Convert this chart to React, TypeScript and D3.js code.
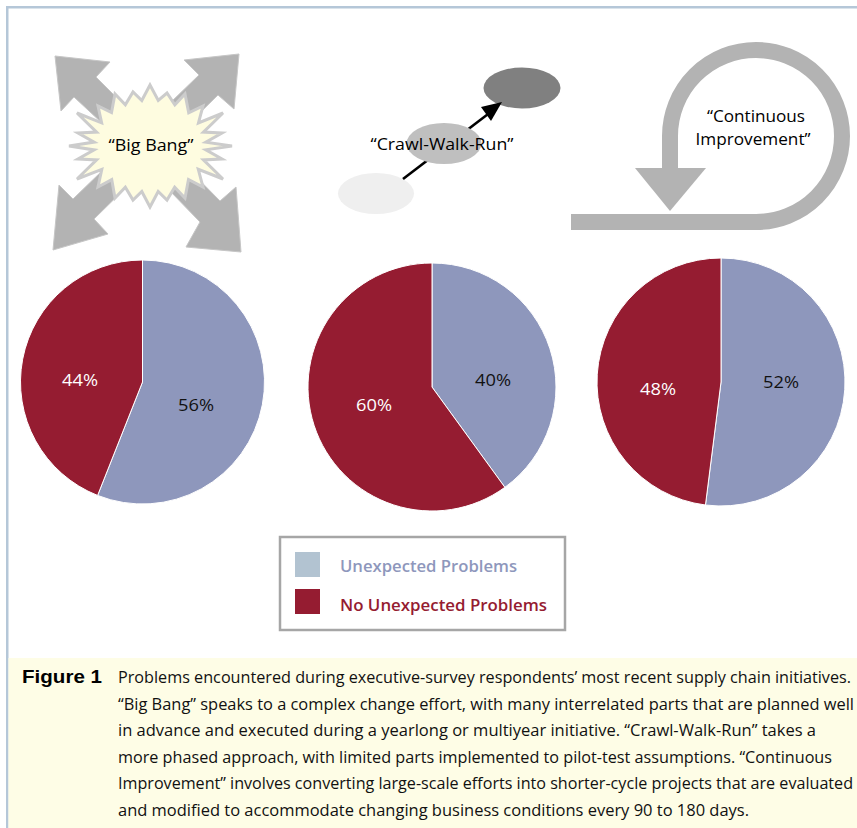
import React from "react";
import * as d3 from "d3";

const seriesNames = ["Unexpected Problems", "No Unexpected Problems"];
const bigBangValues = [56, 44];
const crawlValues = [40, 60];
const continuousValues = [52, 48];
const PIE_COLORS = ["#8e97bc", "#951c31"];
const LABEL_COLORS = ["#111111", "#ffffff"];
const FONT = "'Open Sans', 'Noto Sans', sans-serif";

const captionLines = [
  "Problems encountered during executive-survey respondents’ most recent supply chain initiatives.",
  "“Big Bang” speaks to a complex change effort, with many interrelated parts that are planned well",
  "in advance and executed during a yearlong or multiyear initiative. “Crawl-Walk-Run” takes a",
  "more phased approach, with limited parts implemented to pilot-test assumptions. “Continuous",
  "Improvement” involves converting large-scale efforts into shorter-cycle projects that are evaluated",
  "and modified to accommodate changing business conditions every 90 to 180 days.",
];
const captionWidths = [733, 736, 698, 714, 735, 631];

const pies = [
  { values: bigBangValues, cx: 142.5, cy: 382, r: 122, labels: [[196, 405], [80, 380]] },
  { values: crawlValues, cx: 432, cy: 387, r: 124, labels: [[493, 380], [374, 405]] },
  { values: continuousValues, cx: 721, cy: 382, r: 124, labels: [[781, 382], [658, 389]] },
];

const starTips: [number, number][] = [
  [150, 85], [167, 93], [185, 94], [203, 106], [223, 113], [222, 133], [232, 146], [222, 159],
  [223, 179], [203, 187], [185, 198], [167, 200], [150, 207], [133, 200], [115, 198], [98, 187],
  [77, 179], [78, 159], [69, 146], [78, 133], [77, 113], [98, 106], [115, 94], [133, 92],
];

const arrows: [number, number][][] = [
  [[55, 56], [110, 62], [96, 77], [150, 131], [131, 150], [74, 97], [61, 111]],
  [[239, 54], [184, 60], [199, 75], [140, 132], [160, 152], [218, 95], [234, 109]],
  [[53, 250], [108, 234], [94, 219], [152, 162], [132, 142], [73, 199], [59, 185]],
  [[241, 252], [186, 247], [200, 222], [140, 160], [160, 140], [220, 201], [236, 187]],
];

function starPath(): string {
  const cx = 150, cy = 146;
  const pts: [number, number][] = [];
  starTips.forEach((t, i) => {
    pts.push(t);
    const n = starTips[(i + 1) % starTips.length];
    const a = Math.atan2((t[1] + n[1]) / 2 - cy, (t[0] + n[0]) / 2 - cx);
    pts.push([cx + 56 * Math.cos(a), cy + 46 * Math.sin(a)]);
  });
  return d3.line()(pts) + "Z";
}

export default function App() {
  const pieGen = d3.pie<number>().sort(null).startAngle(0).endAngle(2 * Math.PI);
  return (
    <svg
      width={857}
      height={828}
      viewBox="0 0 857 828"
      style={{ position: "absolute", left: 0, top: 0, background: "#fff", fontFamily: FONT }}
    >
      <rect x={6} y={6} width={851} height={2.5} fill="#b5c7d8" />
      <rect x={6} y={6} width={2.5} height={822} fill="#b5c7d8" />
      <rect x={8.5} y={658} width={848.5} height={170} fill="#fefde6" />

      {/* Big Bang */}
      {arrows.map((a, i) => (
        <polygon key={i} points={a.join(" ")} fill="#b3b3b3" stroke="#c6c6c6" strokeWidth={1} />
      ))}
      <path d={starPath()} fill="#fefce0" stroke="#cccccc" strokeWidth={3} strokeLinejoin="miter" />
      <text x={151} y={151} textAnchor="middle" fontSize={16} textLength={85} lengthAdjust="spacingAndGlyphs" fill="#000">“Big Bang”</text>

      {/* Crawl-Walk-Run */}
      <ellipse cx={376} cy={193.5} rx={38} ry={20.5} fill="#efefef" />
      <line x1={403} y1={179} x2={492} y2={111} stroke="#000" strokeWidth={2.6} />
      <ellipse cx={444} cy={143.5} rx={37.5} ry={20.5} fill="#bfbfbf" />
      <ellipse cx={522} cy={88} rx={38.5} ry={20.5} fill="#808080" />
      <polygon points="502,102 481,107 491,121" fill="#000" />
      <text x={442} y={150} textAnchor="middle" fontSize={16} textLength={143} lengthAdjust="spacingAndGlyphs" fill="#000">“Crawl-Walk-Run”</text>

      {/* Continuous Improvement */}
      <path d="M571,222 H756 A86,86 0 1 0 670,136 V170" fill="none" stroke="#b3b3b3" strokeWidth={16} />
      <polygon points="635,168 706,168 670,211" fill="#b3b3b3" />
      <text x={756} y={122} textAnchor="middle" fontSize={16} textLength={98} lengthAdjust="spacingAndGlyphs" fill="#000">“Continuous</text>
      <text x={753} y={145} textAnchor="middle" fontSize={16} textLength={115} lengthAdjust="spacingAndGlyphs" fill="#000">Improvement”</text>

      {/* Pies */}
      {pies.map((p, i) => {
        const arc = d3.arc<d3.PieArcDatum<number>>().innerRadius(0).outerRadius(p.r);
        return (
          <g key={i}>
            <g transform={`translate(${p.cx},${p.cy})`}>
              {pieGen(p.values).map((d, j) => (
                <path key={j} d={arc(d) as string} fill={PIE_COLORS[j]} stroke="#fff" strokeWidth={1} />
              ))}
            </g>
            {p.values.map((v, j) => (
              <text key={j} x={p.labels[j][0]} y={p.labels[j][1] + 6} textAnchor="middle" fontSize={17} fontWeight={500} textLength={36} lengthAdjust="spacingAndGlyphs" fill={LABEL_COLORS[j]}>
                {v}%
              </text>
            ))}
          </g>
        );
      })}

      {/* Legend */}
      <rect x={280} y={537} width={285} height={93} fill="#fff" stroke="#a6a6a6" strokeWidth={2.5} />
      <rect x={295} y={552} width={25} height={25} fill="#b2c3d1" />
      <rect x={295} y={589} width={25} height={25} fill="#951c31" />
      <text x={340} y={572} fontSize={16} fontWeight={600} textLength={177} lengthAdjust="spacingAndGlyphs" fill="#8e97bc">{seriesNames[0]}</text>
      <text x={340} y={611} fontSize={16} fontWeight={600} textLength={207} lengthAdjust="spacingAndGlyphs" fill="#951c31">{seriesNames[1]}</text>

      {/* Caption */}
      <text x={22} y={683} fontSize={18} fontWeight={700} textLength={80} lengthAdjust="spacingAndGlyphs" fill="#000"
        style={{ fontFamily: "'Liberation Sans', sans-serif" }}>Figure 1</text>
      {captionLines.map((t, i) => (
        <text key={i} x={118} y={683 + i * 26.6} fontSize={16} textLength={captionWidths[i]} lengthAdjust="spacingAndGlyphs" fill="#111">
          {t}
        </text>
      ))}
    </svg>
  );
}
